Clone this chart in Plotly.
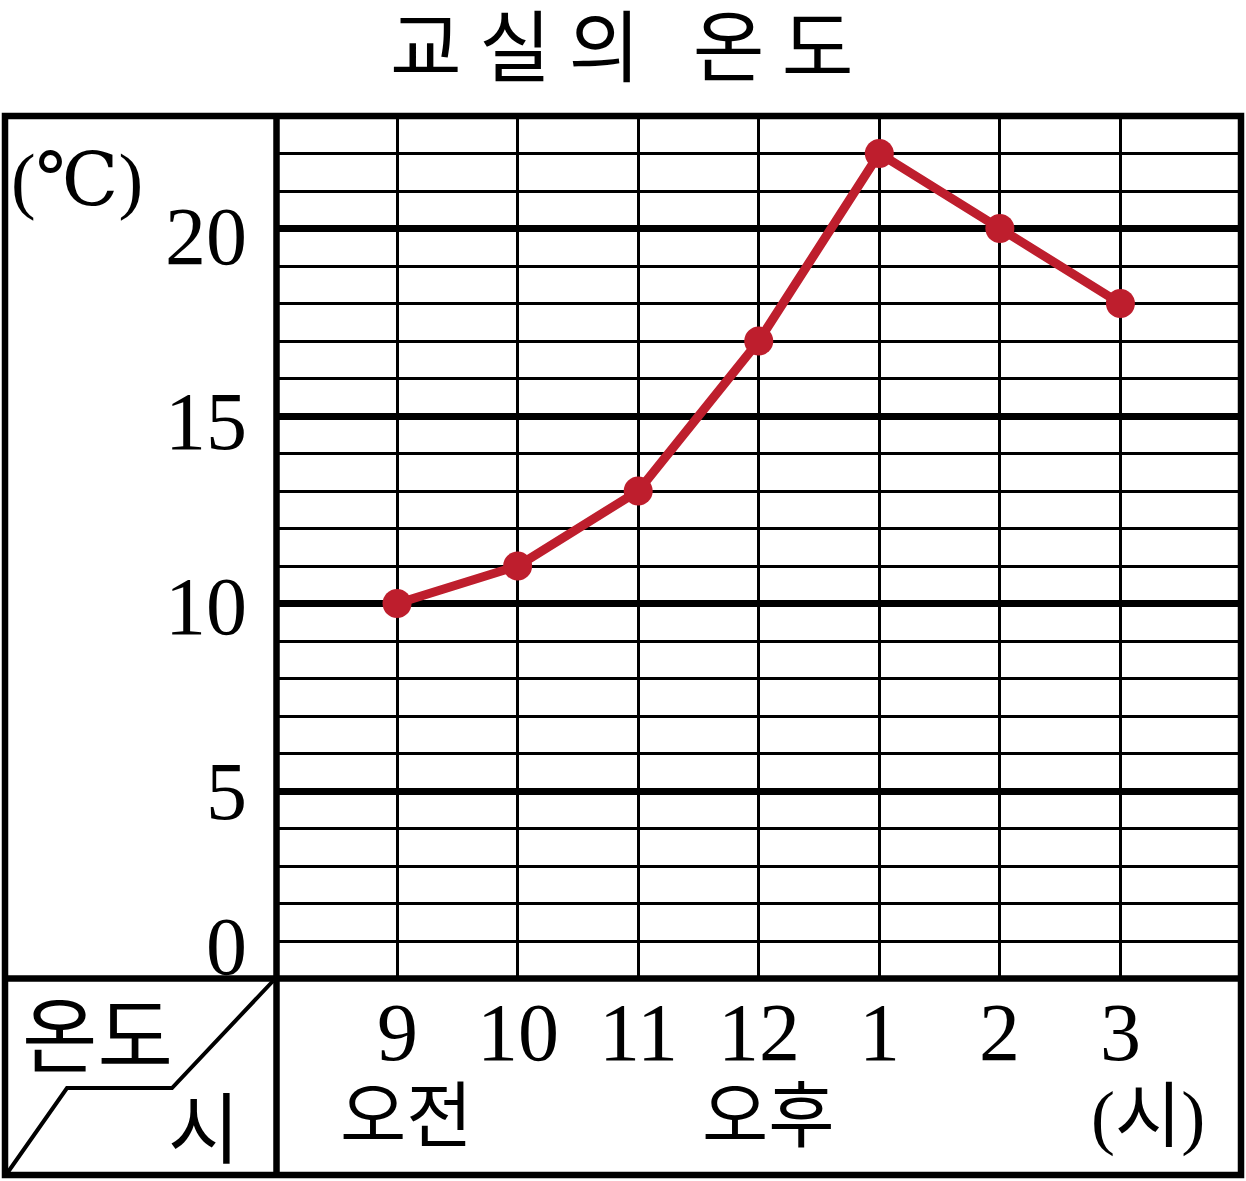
import plotly.graph_objects as go

# ---- data ----
hours = ["9", "10", "11", "12", "1", "2", "3"]
temps = [10, 11, 13, 17, 22, 20, 18]
y_tick_vals = [0, 5, 10, 15, 20]
y_tick_text = ["0", "5", "10", "15", "20"]
period_text = ["오전", "오후", "(시)"]
period_anchor = ["9", "12", "3"]
title_text = "교\u00a0실\u00a0의\u00a0\u00a0\u00a0온\u00a0도"
unit_text = "(℃)"
corner_top = "온도"
corner_bottom = "시"

W, H = 1246, 1181


def px(x):
    return x / W


def py(y):
    return 1 - y / H


RED = "#BE1E2D"
SERIF = "Liberation Serif, DejaVu Serif, Noto Sans CJK KR"
KR = "Noto Sans CJK KR"

# plot area pixel box
PL, PR, PT, PB = 276.5, 1241, 116, 978.5

fig = go.Figure()
fig.add_trace(go.Scatter(
    x=hours, y=temps, mode="lines+markers",
    line=dict(color=RED, width=9),
    marker=dict(color=RED, size=29),
    cliponaxis=False, showlegend=False, hoverinfo="skip",
))

shapes = []
# frame
shapes.append(dict(type="rect", xref="paper", yref="paper",
                   x0=px(5), x1=px(1241), y0=py(1175), y1=py(116),
                   line=dict(color="black", width=6.5), layer="above"))
shapes.append(dict(type="line", xref="paper", yref="paper",
                   x0=px(PL), x1=px(PL), y0=py(1175), y1=py(116),
                   line=dict(color="black", width=6.5), layer="above"))
shapes.append(dict(type="line", xref="paper", yref="paper",
                   x0=px(5), x1=px(1241), y0=py(PB), y1=py(PB),
                   line=dict(color="black", width=6.5), layer="above"))
# diagonal divider in corner cell
shapes.append(dict(type="path", xref="paper", yref="paper",
                   path=(f"M {px(273)} {py(981)} L {px(172)} {py(1088)} "
                         f"L {px(67)} {py(1088)} L {px(8)} {py(1172)}"),
                   line=dict(color="black", width=4)))

annotations = []
# title
annotations.append(dict(text=title_text, xref="paper", yref="paper",
                        x=px(622), y=py(42), xanchor="center", yanchor="middle",
                        showarrow=False,
                        font=dict(family=KR, size=78, color="black")))
# y tick labels
y_shift = {0: 32, 5: 0, 10: -3, 15: -5, 20: -8}
for v, t in zip(y_tick_vals, y_tick_text):
    annotations.append(dict(text=t, xref="paper", yref="y", x=px(249), y=v,
                            xanchor="right", yanchor="middle", showarrow=False,
                            yshift=y_shift[v],
                            font=dict(family=SERIF, size=82, color="black")))
# x tick labels (category index positions on the category axis)
for i, h in enumerate(hours):
    annotations.append(dict(text=h, xref="x", yref="paper", x=i, y=py(1032),
                            xanchor="center", yanchor="middle", showarrow=False,
                            font=dict(family=SERIF, size=82, color="black")))
# period labels
p_shift = {"오전": 9, "오후": 9, "(시)": 28}
for t, a in zip(period_text, period_anchor):
    annotations.append(dict(text=t, xref="x", yref="paper", x=hours.index(a),
                            y=py(1117), xanchor="center", yanchor="middle",
                            showarrow=False, xshift=p_shift[t],
                            font=dict(family=SERIF, size=72, color="black")))
# unit
annotations.append(dict(text=unit_text, xref="paper", yref="paper",
                        x=px(77), y=py(180), xanchor="center", yanchor="middle",
                        showarrow=False,
                        font=dict(family=SERIF, size=74, color="black")))
# corner cell text
annotations.append(dict(text=corner_top, xref="paper", yref="paper",
                        x=px(97), y=py(1030), xanchor="center", yanchor="middle",
                        showarrow=False, font=dict(family=KR, size=82, color="black")))
annotations.append(dict(text=corner_bottom, xref="paper", yref="paper",
                        x=px(204), y=py(1124), xanchor="center", yanchor="middle",
                        showarrow=False, font=dict(family=KR, size=78, color="black")))

fig.update_layout(
    width=W, height=H,
    margin=dict(l=0, r=0, t=0, b=0, pad=0),
    paper_bgcolor="white", plot_bgcolor="white",
    xaxis=dict(type="category", range=[-1, 7], domain=[px(PL), px(PR)],
               showgrid=True, gridcolor="black", gridwidth=2.7,
               showticklabels=False, ticks="", zeroline=False, showline=False,
               fixedrange=True),
    yaxis=dict(range=[0, 23], domain=[py(PB), py(PT)],
               tick0=0, dtick=5, showgrid=True, gridcolor="black", gridwidth=6.5,
               minor=dict(tick0=0, dtick=1, showgrid=True, gridcolor="black",
                          gridwidth=2.5),
               showticklabels=False, ticks="", zeroline=False, showline=False,
               fixedrange=True),
    shapes=shapes,
    annotations=annotations,
)

fig.write_html("out.html", config={"displayModeBar": False},
               post_script="document.body.style.margin='0';document.body.style.overflow='hidden';")
